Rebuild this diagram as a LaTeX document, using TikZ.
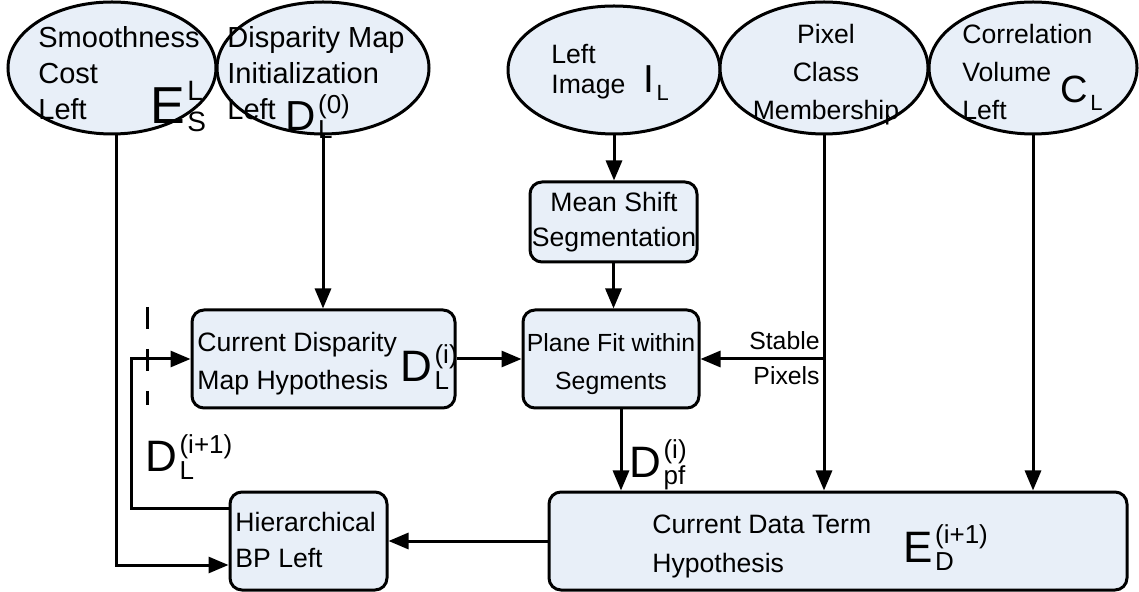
\documentclass[tikz,border=0pt]{standalone}
\usepackage{fontspec}
\setmainfont{Liberation Sans}
\usetikzlibrary{arrows.meta,shapes.geometric}
\definecolor{boxfill}{RGB}{232,239,248}
% #1 big size, #2 script size, #3 letter, #4 superscript, #5 subscript
\newcommand\bigsym[5]{\mbox{%
  \setbox4\hbox{\fontsize{#1}{#1}\selectfont #3}%
  \setbox0\hbox{\fontsize{#2}{#2}\selectfont #4}%
  \setbox2\hbox{\fontsize{#2}{#2}\selectfont #5}%
  \dimen2=\ht4 \advance\dimen2 by -\ht0 \advance\dimen2 by 3.5pt
  \dimen0=\wd0 \ifdim\wd2>\dimen0 \dimen0=\wd2 \fi
  \copy4\kern1.2pt\rlap{\raise\dimen2\copy0}\rlap{\lower4pt\copy2}\hskip\dimen0}}
\begin{document}
\begin{tikzpicture}[x=0.5pt,y=-0.5pt,
  ell/.style={draw, line width=1.5pt, fill=boxfill, ellipse, inner sep=0pt},
  box/.style={draw, line width=1.5pt, fill=boxfill, rounded corners=6pt, inner sep=0pt},
  arr/.style={line width=1.5pt, -{Triangle[length=10pt,width=8pt]}},
  ln/.style={line width=1.5pt},
  ta/.style={inner sep=0pt, font=\fontsize{14.5}{17}\selectfont},
  tb/.style={inner sep=0pt, font=\fontsize{13.3}{16}\selectfont},
  tc/.style={inner sep=0pt, font=\fontsize{12.4}{15}\selectfont},
  sy/.style={inner sep=0pt, anchor=base west}]
\useasboundingbox (0,0) rectangle (1139,592);

% ellipses
\node[ell, minimum width=104pt, minimum height=66pt] (sm) at (112,68) {};
\node[ell, minimum width=106pt, minimum height=66pt] (dm) at (323,68) {};
\node[ell, minimum width=106pt, minimum height=64pt] (img) at (614,70) {};
\node[ell, minimum width=104pt, minimum height=66pt] (pix) at (824,68) {};
\node[ell, minimum width=104pt, minimum height=66pt] (cor) at (1033,68) {};

% boxes
\node[box, minimum width=83.5pt, minimum height=40pt] (ms) at (613.5,222) {};
\node[box, minimum width=131.5pt, minimum height=49pt] (cd) at (323.5,359) {};
\node[box, minimum width=88pt, minimum height=49pt] (pf) at (611,359) {};
\node[box, minimum width=78.5pt, minimum height=49pt] (hb) at (308.5,541) {};
\node[box, minimum width=289pt, minimum height=49pt] (dt) at (838,541) {};

% ellipse texts
\node[ta, anchor=base west] (sm1) at (38,48) {Smoothness};
\node[ta, anchor=base west] (sm2) at (38,84) {Cost};
\node[ta, anchor=base west] (sm3) at (38,120) {Left};
\node[sy] (es) at (150,124) {\bigsym{26}{14}{E}{L}{S}};

\node[ta, anchor=base west] (dm1) at (227,48) {Disparity Map};
\node[ta, anchor=base west] (dm2) at (227,84) {Initialization};
\node[ta, anchor=base west] (dm3) at (227,120) {Left};
\node[sy] (d0) at (285,131) {\bigsym{21}{13}{D}{(0)}{L}};

\node[tb, anchor=base west] (im1) at (551,64) {Left};
\node[tb, anchor=base west] (im2) at (551,94) {Image};
\node[sy] (il) at (643,93) {\bigsym{19.5}{11}{I}{}{L}};

\node[tb, anchor=base] (px1) at (826,44) {Pixel};
\node[tb, anchor=base] (px2) at (826,82) {Class};
\node[tb, anchor=base] (px3) at (826,120) {Membership};

\node[tb, anchor=base west] (co1) at (962,44) {Correlation};
\node[tb, anchor=base west] (co2) at (962,82) {Volume};
\node[tb, anchor=base west] (co3) at (962,120) {Left};
\node[sy] (cl) at (1060,103) {\bigsym{19}{11}{C}{}{L}};

% box texts
\node[tb, anchor=base] (ms1) at (614,212) {Mean Shift};
\node[tb, anchor=base] (ms2) at (614,247) {Segmentation};

\node[tb, anchor=base west] (cd1) at (197,352) {Current Disparity};
\node[tb, anchor=base west] (cd2) at (197,390) {Map Hypothesis};
\node[sy] (dli) at (400,382) {\bigsym{22}{13}{D}{(i)}{L}};

\node[tc, anchor=base] (pf1) at (611,352) {Plane Fit within};
\node[tc, anchor=base] (pf2) at (611,390) {Segments};

\node[tc, anchor=base east] (st1) at (820,350) {Stable};
\node[tc, anchor=base east] (st2) at (820,385) {Pixels};

\node[tb, anchor=base west] (hb1) at (235,531) {Hierarchical};
\node[tb, anchor=base west] (hb2) at (235,567) {BP Left};

\node[tb, anchor=base west] (dt1) at (652,533) {Current Data Term};
\node[tb, anchor=base west] (dt2) at (652,572) {Hypothesis};
\node[sy] (ed) at (903,562) {\bigsym{22}{13}{E}{(i+1)}{D}};

\node[sy] (dpf) at (629,477) {\bigsym{22}{13}{D}{(i)}{pf}};
\node[sy] (dl1) at (145,472) {\bigsym{22}{13}{D}{(i+1)}{L}};

% connectors
\coordinate (c1) at (116,565);
\draw[arr] (sm.south -| c1) -- (c1) -- (c1 -| hb.west);
\draw[arr] (dm.south) -- (dm.south |- cd.north);
\draw[arr] (img.south) -- (img.south |- ms.north);
\draw[arr] (ms.south) -- (ms.south |- pf.north);
\draw[arr] (cd.east) -- (pf.west);
\draw[arr] (pix.south) -- (pix.south |- dt.north);
\draw[arr] (pix.south |- pf.east) -- (pf.east);
\draw[arr] (cor.south) -- (cor.south |- dt.north);
\draw[arr] ([xshift=5pt]pf.south) -- ([xshift=5pt]pf.south |- dt.north);
\draw[arr] (dt.west) -- (hb.east);
\coordinate (c2) at (131,508);
\draw[arr] (c2 -| hb.west) -- (c2) -- (c2 |- cd.west) -- (cd.west);
\coordinate (d1) at (147,307);
\coordinate (d2) at (147,405);
\draw[ln, dash pattern=on 11pt off 10pt] (d1) -- (d2);
\end{tikzpicture}
\end{document}
